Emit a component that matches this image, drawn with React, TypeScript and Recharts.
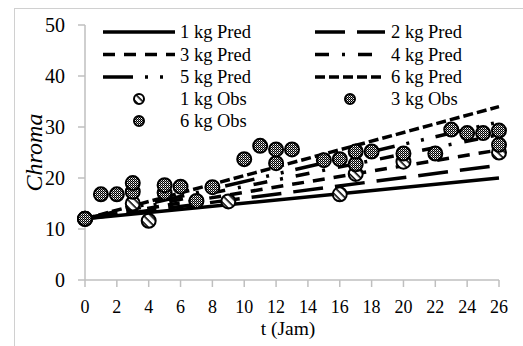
import { ComposedChart, Line, Scatter, XAxis, YAxis, Legend } from 'recharts';

const FONT = "'Liberation Serif', 'Times New Roman', serif";
const AXIS_GRAY = '#bfbfbf';

// predicted lines (two end points each, straight lines)
const predT = [0, 26];
const pred1kg = [12, 20];
const pred2kg = [12, 22.5];
const pred3kg = [12, 25.5];
const pred4kg = [12, 28.5];
const pred5kg = [12, 31];
const pred6kg = [12, 34];

// observed points
const obs1kgT = [0, 3, 4, 9, 16, 17, 20, 26];
const obs1kgY = [12, 15, 11.6, 15.4, 16.8, 20.8, 23.2, 25];
const obs3kgT = [0, 3, 5, 7, 12, 17, 20, 26];
const obs3kgY = [12, 17.3, 17.1, 15.5, 22.9, 22.7, 24.8, 26.5];
const obs6kgT = [0, 1, 2, 3, 5, 6, 8, 10, 11, 12, 13, 15, 16, 17, 18, 22, 23, 24, 25, 26];
const obs6kgY = [12, 16.8, 16.8, 19, 18.6, 18.3, 18.2, 23.7, 26.3, 25.6, 25.6, 23.5, 23.7, 25.2, 25.2, 24.8, 29.5, 28.8, 28.8, 29.3];

const xTicks = [0, 2, 4, 6, 8, 10, 12, 14, 16, 18, 20, 22, 24, 26];
const yTicks = [0, 10, 20, 30, 40, 50];

const toRows = (ts: number[], ys: number[]) => ts.map((t, i) => ({ t, y: ys[i] }));

const predSeries = [
  { name: '1 kg Pred', values: pred1kg, dash: undefined },
  { name: '2 kg Pred', values: pred2kg, dash: '30 12' },
  { name: '3 kg Pred', values: pred3kg, dash: '12 9' },
  { name: '4 kg Pred', values: pred4kg, dash: '14 13 3 13' },
  { name: '5 kg Pred', values: pred5kg, dash: '30 12 3 12 3 12' },
  { name: '6 kg Pred', values: pred6kg, dash: '10 4' },
];

const CheckerDot = (props: any) => {
  const { cx, cy } = props;
  if (cx == null || cy == null) return null;
  return <circle cx={cx} cy={cy} r={7} fill="url(#chk)" stroke="#000" strokeWidth={2} />;
};

const HatchDot = (props: any) => {
  const { cx, cy } = props;
  if (cx == null || cy == null) return null;
  return <circle cx={cx} cy={cy} r={7} fill="url(#hatch)" stroke="#000" strokeWidth={2} />;
};

// legend laid out in two columns like the original
const LegendBox = () => {
  const cols = [
    { x1: 103, x2: 175, tx: 180 },
    { x1: 315, x2: 385, tx: 391 },
  ];
  const rowY = [32, 54.5, 77, 99, 121];
  const items = [
    ...predSeries.map((s) => ({ name: s.name, dash: s.dash, marker: '' })),
    { name: '1 kg Obs', dash: undefined, marker: 'hatch' },
    { name: '3 kg Obs', dash: undefined, marker: 'chk' },
    { name: '6 kg Obs', dash: undefined, marker: 'chk' },
  ];
  return (
    <svg width={523} height={135} style={{ display: 'block' }}>
      {items.map((it, i) => {
        const c = cols[i % 2];
        const y = rowY[Math.floor(i / 2)];
        return (
          <g key={it.name}>
            {it.marker ? (
              <circle cx={(c.x1 + c.x2) / 2} cy={y} r={5} fill={`url(#${it.marker})`} stroke="#000" strokeWidth={2} />
            ) : (
              <line x1={c.x1} x2={c.x2} y1={y} y2={y} stroke="#000" strokeWidth={3.5} strokeDasharray={it.dash} />
            )}
            <text x={c.tx} y={y + 6} style={{ fontFamily: FONT, fontSize: 18.5 }} fill="#000">
              {it.name}
            </text>
          </g>
        );
      })}
    </svg>
  );
};

const ChromaLabel = (props: any) => {
  const vb = props.viewBox || { x: 0, y: 25, width: 85, height: 255 };
  const x = vb.x + 42;
  const y = vb.y + vb.height / 2;
  return (
    <text x={x} y={y} transform={`rotate(-90, ${x}, ${y})`} textAnchor="middle" style={{ fontFamily: FONT, fontStyle: 'italic', fontSize: 24 }} fill="#000">
      Chroma
    </text>
  );
};

const TimeLabel = (props: any) => {
  const vb = props.viewBox || { x: 85, y: 280, width: 414, height: 50 };
  return (
    <text x={vb.x + vb.width / 2 - 4} y={vb.y + 55} textAnchor="middle" style={{ fontFamily: FONT, fontSize: 19.5 }} fill="#000">
      t (Jam)
    </text>
  );
};

export default function App() {
  const xTickStyle = { fill: '#000', fontSize: 18, style: { fontFamily: FONT } };
  const yTickStyle = { fill: '#000', fontSize: 20, style: { fontFamily: FONT } };
  return (
    <div style={{ position: 'absolute', left: 0, top: 0, width: 523, height: 346, overflow: 'hidden', background: '#fff', fontFamily: FONT }}>
      <div style={{ position: 'absolute', left: 14, top: 8, width: 600, height: 400, border: '1.5px solid #d0d0d0' }} />
      <ComposedChart width={523} height={346} margin={{ top: 25, right: 24, left: 0, bottom: 16 }} style={{ fontFamily: FONT }}>
        <defs>
          <pattern id="chk" width="2" height="2" patternUnits="userSpaceOnUse">
            <rect width="2" height="2" fill="#8a8a8a" />
            <rect width="1" height="1" fill="#000" />
            <rect x="1" y="1" width="1" height="1" fill="#000" />
            <rect x="1" y="0" width="1" height="1" fill="#fff" />
          </pattern>
          <pattern id="hatch" width="5" height="5" patternUnits="userSpaceOnUse" patternTransform="rotate(45)">
            <rect width="5" height="5" fill="#fff" />
            <rect width="5" height="1.6" fill="#000" />
          </pattern>
        </defs>
        <XAxis
          dataKey="t"
          type="number"
          domain={[0, 26]}
          ticks={xTicks}
          interval={0}
          height={50}
          tickSize={7}
          tickMargin={13}
          axisLine={{ stroke: AXIS_GRAY, strokeWidth: 1.5 }}
          tickLine={{ stroke: AXIS_GRAY, strokeWidth: 1.5 }}
          tick={xTickStyle}
          label={<TimeLabel />}
        />
        <YAxis
          dataKey="y"
          type="number"
          domain={[0, 50]}
          ticks={yTicks}
          width={85}
          tickSize={7}
          tickMargin={13}
          axisLine={{ stroke: AXIS_GRAY, strokeWidth: 1.5 }}
          tickLine={{ stroke: AXIS_GRAY, strokeWidth: 1.5 }}
          tick={yTickStyle}
          label={<ChromaLabel />}
        />
        <Legend
          layout="horizontal"
          verticalAlign="middle"
          align="center"
          content={() => <LegendBox />}
          wrapperStyle={{ top: 0, left: 0, width: 523, height: 135 }}
        />
        {predSeries.map((s) => (
          <Line
            key={s.name}
            name={s.name}
            data={toRows(predT, s.values)}
            dataKey="y"
            type="linear"
            stroke="#000"
            strokeWidth={3.5}
            strokeDasharray={s.dash}
            dot={false}
            activeDot={false}
            isAnimationActive={false}
          />
        ))}
        <Scatter name="1 kg Obs" data={toRows(obs1kgT, obs1kgY)} dataKey="y" shape={HatchDot} isAnimationActive={false} />
        <Scatter name="3 kg Obs" data={toRows(obs3kgT, obs3kgY)} dataKey="y" shape={CheckerDot} isAnimationActive={false} />
        <Scatter name="6 kg Obs" data={toRows(obs6kgT, obs6kgY)} dataKey="y" shape={CheckerDot} isAnimationActive={false} />
      </ComposedChart>
    </div>
  );
}
